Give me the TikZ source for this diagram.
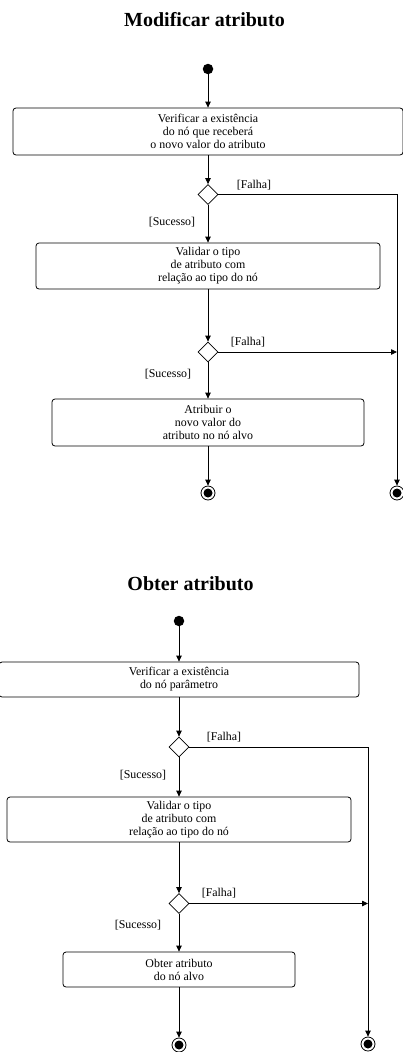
\documentclass[tikz,border=0pt]{standalone}
\usepackage{fontspec}
\setmainfont{Liberation Serif}
\usetikzlibrary{shapes.geometric,arrows.meta}
\begin{document}
\begin{tikzpicture}[x=1pt,y=-1pt,
  every node/.style={font=\fontsize{11.9}{13}\selectfont},
  action/.style={draw, rounded corners=3pt, align=center, inner sep=0pt, line width=0.8pt},
  decision/.style={draw, diamond, minimum size=20pt, inner sep=0pt, line width=0.8pt},
  startdot/.style={circle, fill, minimum size=10.5pt, inner sep=0pt},
  enddot/.style={circle, draw, line width=0.8pt, minimum size=14pt, inner sep=0pt,
    path picture={\fill (path picture bounding box.center) circle (4.5pt);}},
  flow/.style={line width=0.8pt, -{Triangle[length=6pt,width=5.5pt]}},
  wire/.style={line width=0.8pt},
  guard/.style={inner sep=0pt},
  title/.style={font=\fontsize{20}{24}\selectfont\bfseries}
]
\useasboundingbox (0,0) rectangle (402,1052);

% ---------- Modificar atributo ----------
\node[title] (t1) at (204.5,20) {Modificar atributo};
\node[startdot] (s1) at (208,69) {};
\node[action, minimum width=390pt, minimum height=47pt] (a1) at (208,131.5)
  {Verificar a existência\\do nó que receberá\\o novo valor do atributo};
\node[decision] (d1) at (208,194.5) {};
\node[action, minimum width=344pt, minimum height=46pt] (a2) at (208,266)
  {Validar o tipo\\de atributo com\\relação ao tipo do nó};
\node[decision] (d2) at (208,352) {};
\node[action, minimum width=312pt, minimum height=47pt] (a3) at (208,422.5)
  {Atribuir o\\novo valor do\\atributo no nó alvo};
\node[enddot] (e1) at (208,493) {};
\node[enddot] (e2) at (397,493) {};
\coordinate (c1) at (397,194.5);
\coordinate (c2) at (397,352);

\draw[flow] (s1) -- (a1);
\draw[flow] (a1) -- (d1);
\draw[flow] (d1) -- (a2);
\draw[flow] (a2) -- (d2);
\draw[flow] (d2) -- (a3);
\draw[flow] (a3) -- (e1);
\draw[flow] (d1.east) -- (c1) -- (e2);
\draw[flow] (d2.east) -- (c2);

\node[guard] (g1) at (254,185) {[Falha]};
\node[guard] (g2) at (172,222) {[Sucesso]};
\node[guard] (g3) at (248,342) {[Falha]};
\node[guard] (g4) at (168,374) {[Sucesso]};

% ---------- Obter atributo ----------
\node[title] (t2) at (190.5,584) {Obter atributo};
\node[startdot] (s2) at (179,621) {};
\node[action, minimum width=360pt, minimum height=35pt] (b1) at (179,679.5)
  {Verificar a existência\\do nó parâmetro};
\node[decision] (f1) at (179,747) {};
\node[action, minimum width=344pt, minimum height=45pt] (b2) at (179,819.5)
  {Validar o tipo\\de atributo com\\relação ao tipo do nó};
\node[decision] (f2) at (179,903.5) {};
\node[action, minimum width=232pt, minimum height=35pt] (b3) at (179,969.5)
  {Obter atributo\\do nó alvo};
\node[enddot] (e3) at (179,1045) {};
\node[enddot] (e4) at (368,1044) {};
\coordinate (k1) at (368,747);
\coordinate (k2) at (368,903.5);

\draw[flow] (s2) -- (b1);
\draw[flow] (b1) -- (f1);
\draw[flow] (f1) -- (b2);
\draw[flow] (b2) -- (f2);
\draw[flow] (f2) -- (b3);
\draw[flow] (b3) -- (e3);
\draw[flow] (f1.east) -- (k1) -- (e4);
\draw[flow] (f2.east) -- (k2);

\node[guard] (h1) at (224,737) {[Falha]};
\node[guard] (h2) at (143,775) {[Sucesso]};
\node[guard] (h3) at (219,893) {[Falha]};
\node[guard] (h4) at (138,925) {[Sucesso]};
\end{tikzpicture}
\end{document}
